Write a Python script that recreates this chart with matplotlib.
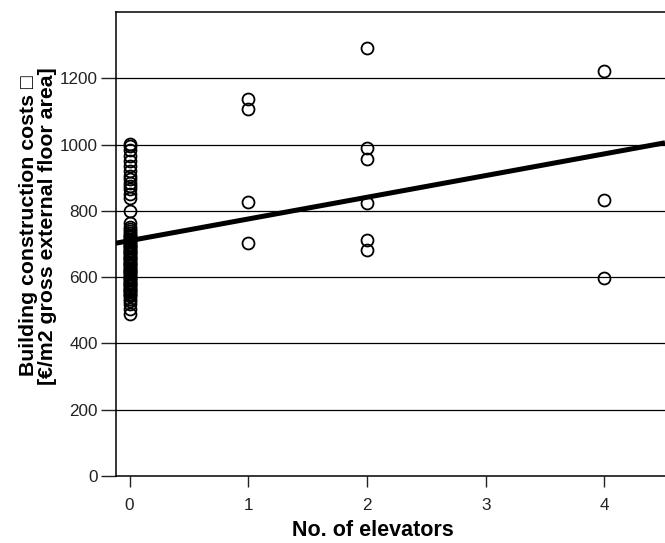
import matplotlib
matplotlib.use("Agg")
import matplotlib.pyplot as plt
import numpy as np

plt.rcParams['font.family'] = ['Liberation Sans', 'DejaVu Sans']

# Observed building costs per number of elevators (EUR / m2 gross external floor area)
costs_0 = [1003, 995, 985, 965, 950, 935, 920, 905, 895, 885, 875, 865, 850, 840, 800,
           762, 752, 746, 740, 733, 728, 724, 720, 716, 712, 708, 705, 701, 698, 694,
           690, 687, 683, 680, 676, 672, 669, 665, 662, 658, 654, 651, 647, 644, 640,
           636, 633, 629, 626, 622, 618, 615, 611, 608, 604, 600, 597, 593, 590, 586,
           582, 579, 575, 572, 568, 564, 561, 557, 554, 550, 546, 542, 535, 528, 520,
           505, 490]
costs_1 = [1138, 1108, 828, 702]
costs_2 = [1292, 989, 956, 823, 712, 682]
costs_4 = [1223, 833, 597]

elevators = [0, 1, 2, 4]
groups = [costs_0, costs_1, costs_2, costs_4]

# Linear fit line
fit_intercept = 710
fit_slope = 65.5

x_ticks = [0, 1, 2, 3, 4]
y_ticks = [0, 200, 400, 600, 800, 1000, 1200]

fig = plt.figure(figsize=(6.65, 5.43), dpi=100)
ax = fig.add_axes([116 / 665, 67 / 543, 1 - 116 / 665, (476 - 12) / 543])

x_lo, x_hi = -0.114, 4.51
ax.set_xlim(x_lo, x_hi)
ax.set_ylim(0, 1400)

for y in y_ticks[1:]:
    ax.axhline(y, color='black', lw=0.9, zorder=1)

for xv, vals in zip(elevators, groups):
    ax.plot([xv] * len(vals), vals, linestyle='none', marker='o', ms=8.6,
            mfc='none', mec='black', mew=1.3, zorder=3)

xs = np.array([x_lo, x_hi])
ax.plot(xs, fit_intercept + fit_slope * xs, color='black', lw=3.6,
        solid_capstyle='butt', zorder=4)

ax.spines['right'].set_visible(False)
for s in ['left', 'top', 'bottom']:
    ax.spines[s].set_linewidth(1.1)
    ax.spines[s].set_color('black')

ax.set_xticks(x_ticks)
ax.set_yticks(y_ticks)
ax.tick_params(axis='y', length=11, width=1.0, pad=2, labelsize=12.3, colors='#222222')
ax.tick_params(axis='x', length=8, width=1.0, pad=8, labelsize=12.3, colors='#222222')

fig.text(38 / 665, 1 - 226 / 543,
         "Building construction costs \u25a1\n[\u20ac/m2 gross external floor area]",
         rotation=90, ha='center', va='center', multialignment='center',
         fontsize=15.3, fontweight='bold', linespacing=0.95)
fig.text(373 / 665, 1 - 530 / 543, "No. of elevators", ha='center', va='center',
         fontsize=15.5, fontweight='bold')

fig.savefig("out.png", dpi=100)
